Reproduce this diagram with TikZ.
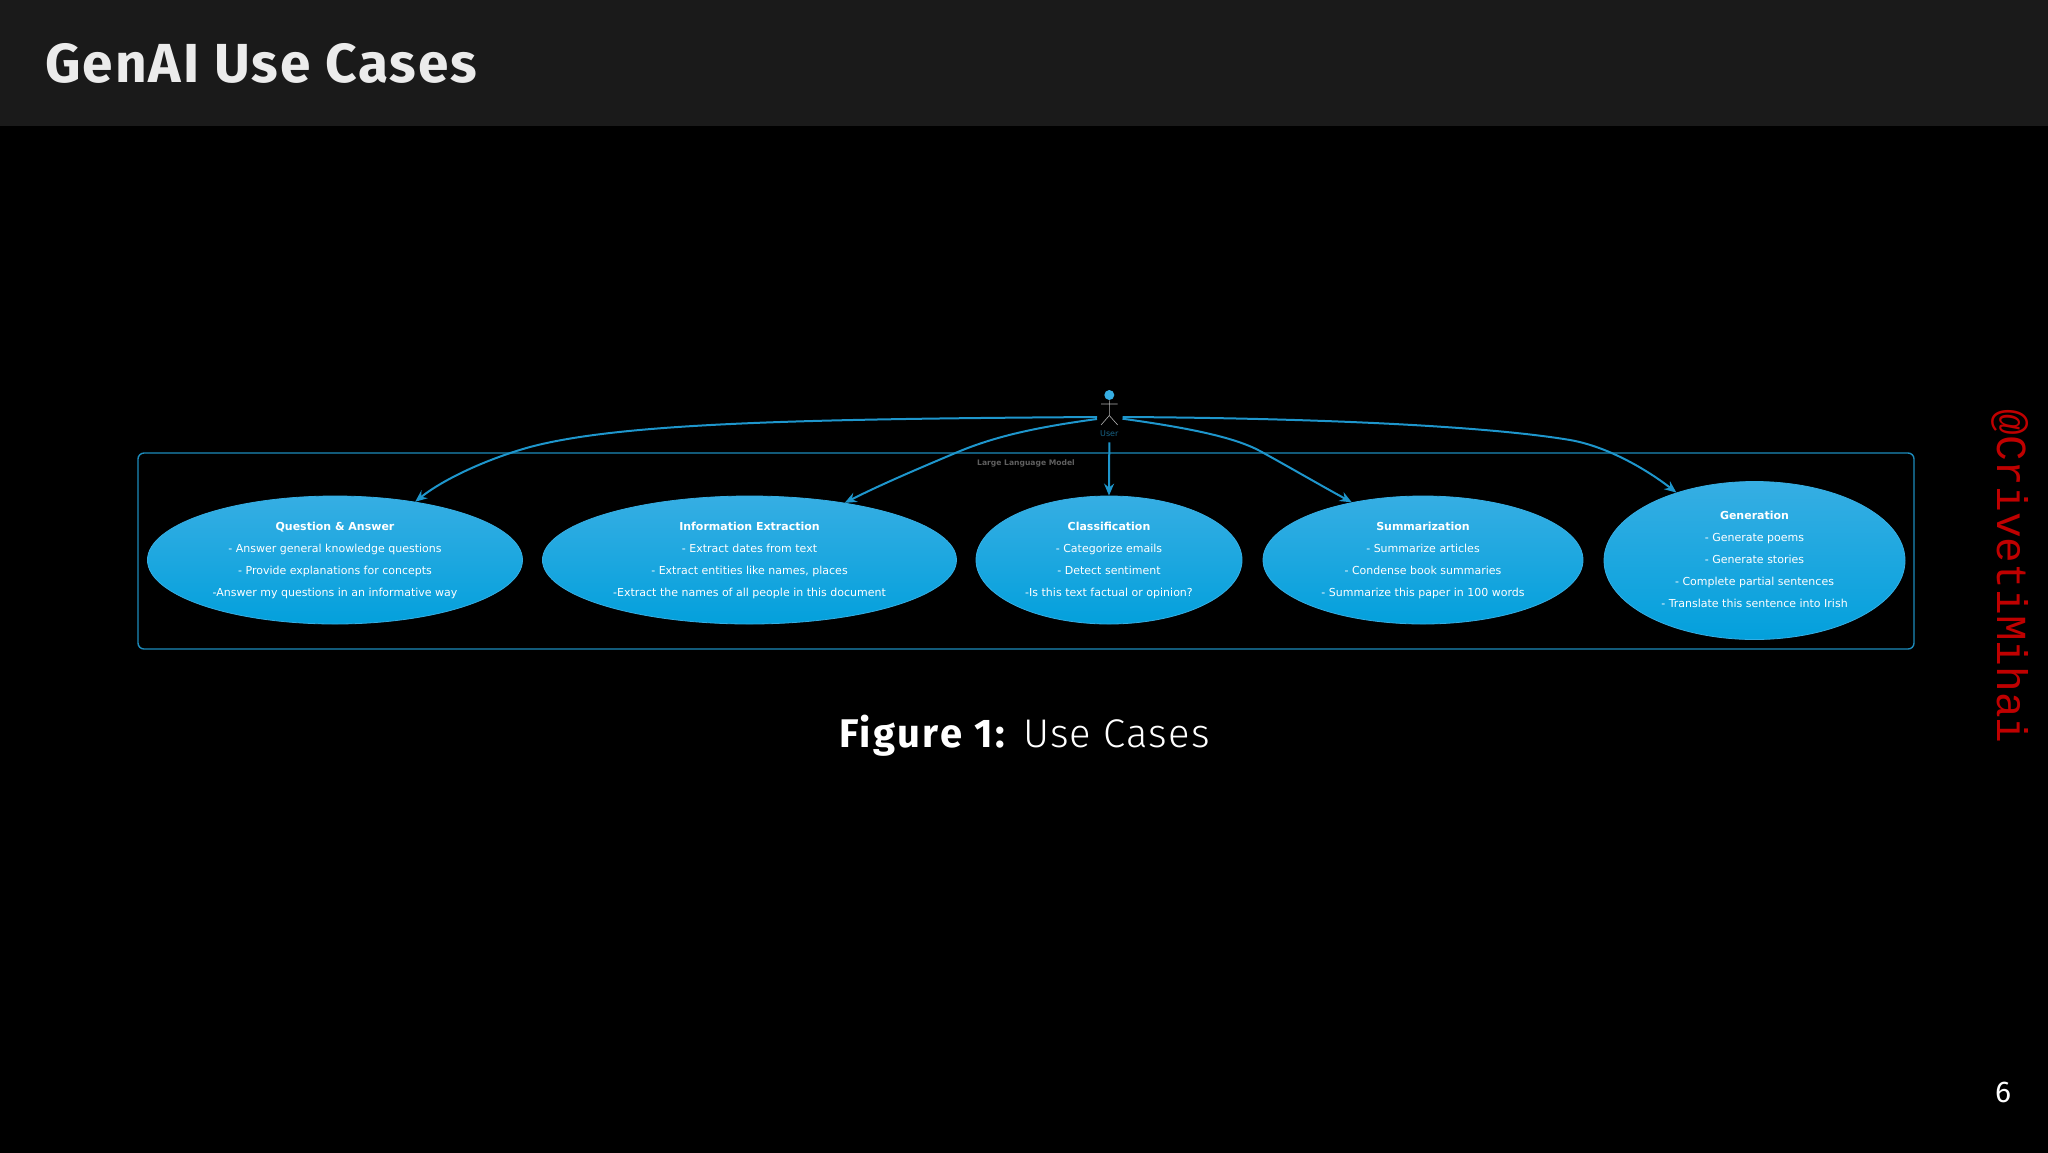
\documentclass[tikz,border=0pt]{standalone}
\usepackage{fontspec}
\usetikzlibrary{shapes.geometric,arrows.meta}
\setmainfont{DejaVu Sans}
\newfontfamily\headfont{Fira Sans}[LetterSpace=3.5]
\newfontfamily\figfont{Fira Sans}[LetterSpace=6]
\newfontfamily\lightfont{Fira Sans Light}[LetterSpace=3]
\newfontfamily\wmfont{Liberation Mono}
\definecolor{linkc}{HTML}{1E96CC}
\definecolor{framec}{HTML}{1D8BBB}
\definecolor{topc}{HTML}{36AEE3}
\definecolor{botc}{HTML}{03A0DC}
\tikzset{
  usecase/.style={ellipse,shade,top color=topc,bottom color=botc,draw=topc,line width=.4pt,
    inner sep=0pt,text=white,align=center,font=\fontsize{5.5}{11}\selectfont,
    minimum height=#1},
  usecase/.default=128*0.5pt,
  link/.style={draw=linkc,line width=1pt,-{Stealth[length=6pt,width=5pt,inset=2pt]}},
  limb/.style={draw=white!70!black,line width=.3pt}
}
\newcommand{\ttl}[1]{{\fontsize{5.5}{11}\selectfont\bfseries #1}}
\begin{document}
\begin{tikzpicture}[x=.5pt,y=-.5pt]
\useasboundingbox (0,0) rectangle (2048,1152);
\fill[black] (-10,-10) rectangle (2058,1162);
\fill[fill={rgb,255:red,26;green,26;blue,26}] (-10,-10) rectangle (2058,126);
\node[anchor=west,text={rgb,255:red,235;green,235;blue,235},font=\headfont\bfseries\fontsize{27.5}{30}\selectfont,inner sep=0pt] (title) at (45,63) {GenAI Use Cases};
\draw[framec,line width=.7pt,rounded corners=3pt] (138,453) rectangle (1914,649);
\node[text={rgb,255:red,95;green,95;blue,95},font=\bfseries\fontsize{3.8}{5}\selectfont,inner sep=0pt] (llm) at (1026,463) {Large Language Model};
\node[usecase,minimum width=187.5pt] (qa) at (335,560) {\ttl{Question \& Answer}\\- Answer general knowledge questions\\- Provide explanations for concepts\\-Answer my questions in an informative way};
\node[usecase,minimum width=207pt] (ie) at (749.5,560) {\ttl{Information Extraction}\\- Extract dates from text\\- Extract entities like names, places\\-Extract the names of all people in this document};
\node[usecase,minimum width=133pt] (cl) at (1109,560) {\ttl{Classification}\\- Categorize emails\\- Detect sentiment\\-Is this text factual or opinion?};
\node[usecase,minimum width=160pt] (su) at (1423,560) {\ttl{Summarization}\\- Summarize articles\\- Condense book summaries\\- Summarize this paper in 100 words};
\node[usecase=158*0.5pt,minimum width=150.5pt] (ge) at (1754.5,560.5) {\ttl{Generation}\\- Generate poems\\- Generate stories\\- Complete partial sentences\\- Translate this sentence into Irish\rule[-1.6pt]{0pt}{0pt}};
% actor
\node[circle,fill=topc,inner sep=0pt,minimum size=5pt] (head) at (1109.3,395) {};
\coordinate (hip) at (1109.3,415.5);
\coordinate (armL) at (1101,404);
\coordinate (armR) at (1117.7,404);
\coordinate (legL) at (1101,425);
\coordinate (legR) at (1117.7,425);
\draw[limb] (head) -- (hip) (armL) -- (armR) (legL) -- (hip) -- (legR);
\node[text={rgb,255:red,24;green,100;blue,135},font=\fontsize{4}{5}\selectfont,inner sep=0pt] (user) at (1109.3,434) {User};
\coordinate (userW) at (1097,417);
\coordinate (userWb) at (1097,419);
\coordinate (userE) at (1122.5,417);
\coordinate (userEb) at (1122.5,418.7);
\draw[link] (userW) .. controls (800,419) and (620,423) .. (530,447) .. controls (490,458) and (445,478) .. (qa.36.5);
\draw[link] (userWb) .. controls (1030,428) and (990,438) .. (953,454) .. controls (915,470) and (880,485) .. (ie.31.5);
\draw[link] (user.south) ++(0,5) -- (cl.north);
\draw[link] (userEb) .. controls (1190,428) and (1235,437.5) .. (1260,451) .. controls (1290,467.5) and (1320,485) .. (su.141);
\draw[link] (userE) .. controls (1300,418) and (1480,425) .. (1570,440) .. controls (1610,447) and (1650,472) .. (ge.139);
% caption
\node[text=white,inner sep=0pt,font=\fontsize{20}{24}\selectfont] (cap) at (1024.5,736) {{\figfont\bfseries Figure 1:}\hspace{.46em}{\lightfont Use Cases}};
\node[text=white,inner sep=0pt,font=\fontsize{15}{18}\selectfont\headfont] (page) at (2003,1092) {6};
\node[rotate=-90,text={rgb,255:red,192;green,0;blue,0},inner sep=0pt,font=\wmfont\fontsize{21.4}{24}\selectfont] (wm) at (2010,576.5) {@CrivetiMihai};
\end{tikzpicture}
\end{document}
